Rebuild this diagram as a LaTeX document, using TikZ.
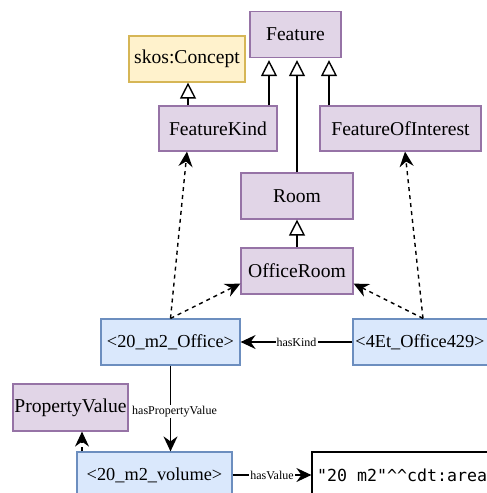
\documentclass[tikz,border=0pt]{standalone}
\usepackage{fontspec}
\setmainfont{Liberation Serif}
\newfontfamily\litfont{DejaVu Sans Mono}
\usetikzlibrary{arrows.meta}
\definecolor{pfill}{HTML}{E1D5E7}
\definecolor{pdraw}{HTML}{9673A6}
\definecolor{yfill}{HTML}{FFF2CC}
\definecolor{ydraw}{HTML}{D6B656}
\definecolor{bfill}{HTML}{DAE8FC}
\definecolor{bdraw}{HTML}{6C8EBF}
\tikzset{
  box/.style={rectangle, inner sep=0pt, line width=1.2pt, minimum height=46pt,
    font=\fontsize{19.6}{22}\selectfont},
  cls/.style={box, fill=pfill, draw=pdraw},
  skosbox/.style={box, fill=yfill, draw=ydraw},
  inst/.style={box, fill=bfill, draw=bdraw, font=\fontsize{18.3}{21}\selectfont},
  inherit/.style={line width=1.4pt, -{Triangle[open, length=16pt, width=16pt, fill=white]}},
  rel/.style={line width=1.4pt, -{Stealth[length=15pt, width=14pt, inset=5pt]}},
  typeof/.style={rel, dash pattern=on 4pt off 4pt},
  elabel/.style={font=\fontsize{12}{14}\selectfont, fill=white, inner sep=1pt}
}
\begin{document}
\begin{tikzpicture}[x=1pt, y=-1pt]
\useasboundingbox (0,0) rectangle (487,493);
\clip (0,0) rectangle (487,493);
% nodes
\node[cls, minimum width=91pt] (feature) at (295.5,34.5) {Feature};
\node[skosbox, minimum width=116pt] (skos) at (187,59) {skos:Concept};
\node[cls, minimum width=118pt, minimum height=45pt] (fk) at (218,128.5) {FeatureKind};
\node[cls, minimum width=161pt, minimum height=45pt] (foi) at (400.5,128.5) {FeatureOfInterest};
\node[cls, minimum width=112pt] (room) at (297,196) {Room};
\node[cls, minimum width=112pt] (office) at (297,271) {OfficeRoom};
\node[inst, minimum width=139pt] (o20) at (170.5,342) {<20\_m2\_Office>};
\node[inst, minimum width=137pt] (et) at (421.5,342) {};
\node[inner sep=0pt, font=\fontsize{18.3}{21}\selectfont] (ettext) at (420,342) {<4Et\_Office429>};
\node[cls, minimum width=115pt, minimum height=47pt] (pv) at (70.5,407.5) {PropertyValue};
\node[inst, minimum width=155pt] (vol) at (154.5,475) {<20\_m2\_volume>};
\node[rectangle, draw=black, line width=1.2pt, fill=white, minimum width=260pt,
  minimum height=46pt, inner sep=0pt] (lit) at (442,475) {};
\node[anchor=west, inner sep=0pt, font=\litfont\fontsize{16.6}{19}\selectfont]
  (littext) at (317,475) {"20 m2"\^{}\^{}cdt:area};
% inheritance
\draw[inherit] ([xshift=1pt]fk.north -| skos.south) -- ([xshift=1pt]skos.south);
\draw[inherit] ([xshift=51pt]fk.north) -- ([xshift=51pt,yshift=-2pt]fk.north |- feature.south);
\draw[inherit] (room.north) -- ([yshift=-2pt]room.north |- feature.south);
\draw[inherit] ([xshift=-71.5pt]foi.north) -- ([xshift=-71.5pt,yshift=-2pt]foi.north |- feature.south);
\draw[inherit] (office.north) -- (room.south);
% typing (dashed)
\draw[typeof] (o20.north) -- ([xshift=-31pt]fk.south);
\draw[typeof] (o20.north) -- ([yshift=11pt]office.south west);
\draw[typeof] ([xshift=1.5pt]et.north) -- ([xshift=4.5pt]foi.south);
\draw[typeof] ([xshift=1.5pt]et.north) -- ([yshift=11pt]office.south east);
\draw[typeof] ([xshift=-72.5pt]vol.north) -- ([xshift=-72.5pt]vol.north |- pv.south);
% properties
\draw[rel] (et.west) -- node[elabel] {hasKind} (o20.east);
\draw[rel] (o20.south) -- node[elabel, pos=0.54, xshift=4pt] {hasPropertyValue} (vol.north -| o20.south);
\draw[rel] (vol.east) -- node[elabel] {hasValue} (lit.west);
\end{tikzpicture}
\end{document}
